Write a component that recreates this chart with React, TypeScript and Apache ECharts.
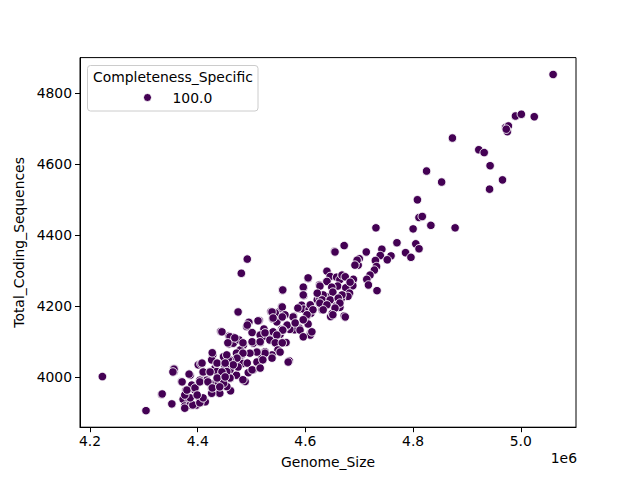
import React, { useEffect, useRef } from "react";
import * as echarts from "echarts";

const xLabel = "Genome_Size";
const yLabel = "Total_Coding_Sequences";
const legendTitle = "Completeness_Specific";
const seriesName = "100.0";
const xTicks = [4200000, 4400000, 4600000, 4800000, 5000000];
const yTicks = [4000, 4200, 4400, 4600, 4800];

// [Genome_Size, Total_Coding_Sequences]
const pointsUpper: number[][] = [
  [5060000, 4853],
  [4990000, 4736], [5001000, 4741], [5025000, 4734],
  [4972000, 4704], [4977000, 4708], [4975000, 4692], [4973000, 4699],
  [4873000, 4674], [4922000, 4641], [4932000, 4633], [4943000, 4596], [4966000, 4556], [4942000, 4530],
  [4825000, 4581], [4853000, 4550], [4808000, 4500], [4811000, 4450], [4817000, 4453], [4833000, 4428], [4878000, 4421],
  [4731000, 4421], [4800000, 4418], [4770000, 4379], [4805000, 4376], [4811000, 4362], [4786000, 4351], [4796000, 4338],
  [4742000, 4361], [4739000, 4343], [4759000, 4342], [4752000, 4331], [4713000, 4353],
  [4700000, 4334], [4696000, 4325], [4698000, 4316], [4730000, 4329], [4732000, 4312], [4728000, 4302],
  [4720000, 4288], [4714000, 4276], [4717000, 4260], [4733000, 4244],
  [4654000, 4355], [4672000, 4371], [4640000, 4299],
  [4646000, 4284], [4658000, 4282], [4670000, 4285], [4664000, 4275],
  [4689000, 4276], [4684000, 4265], [4688000, 4258],
  [4660000, 4257], [4675000, 4252], [4682000, 4237], [4679000, 4228], [4667000, 4223], [4657000, 4201], [4664000, 4197], [4640000, 4227],
  [4672000, 4173], [4647000, 4171], [4650000, 4180],
  [4631000, 4190], [4626000, 4208], [4622000, 4218], [4627000, 4223], [4633000, 4232],
  [4626000, 4260], [4640000, 4270], [4605000, 4278], [4597000, 4253], [4597000, 4230],
];

const pointsMiddle: number[][] = [
  [4589000, 4193], [4593000, 4203], [4597000, 4192], [4607000, 4192], [4610000, 4180], [4602000, 4171], [4605000, 4150], [4609000, 4124], [4609000, 4119],
  [4589000, 4138], [4580000, 4134], [4571000, 4135], [4578000, 4172],
  [4557000, 4246], [4556000, 4199], [4552000, 4185], [4557000, 4171], [4536000, 4185], [4539000, 4165],
  [4565000, 4144], [4556000, 4135], [4553000, 4121], [4544000, 4119], [4531000, 4122], [4525000, 4115], [4547000, 4096], [4564000, 4098], [4550000, 4076], [4538000, 4055], [4570000, 4046],
  [4514000, 4160], [4523000, 4136], [4501000, 4126], [4491000, 4143], [4495000, 4155], [4516000, 4119], [4516000, 4098], [4503000, 4096], [4510000, 4072], [4525000, 4072], [4519000, 4053], [4503000, 4021], [4494000, 4013], [4488000, 3988],
  [4492000, 4333], [4481000, 4293], [4475000, 4185], [4443000, 4129],
  [4458000, 4116], [4466000, 4113], [4458000, 4094], [4466000, 4096], [4477000, 4105],
  [4485000, 4091], [4479000, 4077], [4472000, 4068], [4482000, 4063], [4469000, 4039], [4483000, 4039], [4472000, 4006], [4460000, 3997], [4461000, 3962], [4454000, 3974],
  [4655000, 4353], [4696000, 4330], [4692000, 4316], [4668000, 4288], [4674000, 4283], [4683000, 4268],
  [4605000, 4280], [4627000, 4257], [4649000, 4254], [4596000, 4254], [4596000, 4232], [4558000, 4246], [4622000, 4237], [4651000, 4240], [4668000, 4232],
  [4631000, 4218], [4646000, 4218], [4661000, 4223], [4664000, 4209], [4557000, 4198], [4586000, 4195], [4609000, 4204], [4627000, 4209], [4640000, 4204], [4655000, 4195],
  [4674000, 4170], [4651000, 4176], [4633000, 4190], [4614000, 4190], [4603000, 4176], [4596000, 4162], [4577000, 4170], [4562000, 4176], [4544000, 4181],
  [4547000, 4156], [4566000, 4147], [4581000, 4153], [4558000, 4133], [4590000, 4133], [4612000, 4128], [4596000, 4114], [4540000, 4128],
  [4475000, 4184], [4492000, 4147], [4512000, 4159], [4445000, 4128], [4460000, 4114], [4456000, 4097], [4469000, 4111], [4484000, 4097], [4501000, 4100], [4516000, 4100], [4525000, 4125],
  [4538000, 4184], [4557000, 4170], [4540000, 4167], [4558000, 4133], [4547000, 4119], [4534000, 4105], [4544000, 4097], [4557000, 4097], [4549000, 4077], [4538000, 4063],
  [4525000, 4068], [4510000, 4071], [4497000, 4068], [4484000, 4068], [4473000, 4054], [4460000, 4049], [4447000, 4040], [4432000, 4026], [4427000, 4063],
  [4441000, 4015], [4460000, 4021], [4475000, 4029], [4492000, 4040], [4510000, 4043], [4521000, 4049], [4538000, 4054], [4501000, 4021],
  [4484000, 3993], [4460000, 3998], [4447000, 3993], [4436000, 3987], [4568000, 4043], [4553000, 4071], [4516000, 4026],
];

const pointsLower: number[][] = [
  [4448000, 4058], [4457000, 4049], [4466000, 4035], [4451000, 4030], [4435000, 4039], [4428000, 4063], [4426000, 4049], [4422000, 4016], [4410000, 4013], [4407000, 4035],
  [4435000, 4016], [4445000, 3997], [4454000, 4016], [4448000, 3983], [4432000, 3983], [4423000, 3983], [4417000, 3992], [4426000, 3969], [4438000, 3969], [4441000, 3955], [4426000, 3955],
  [4401000, 4035], [4406000, 4038], [4386000, 4006], [4370000, 3988], [4356000, 4025], [4356000, 4016], [4404000, 3992], [4395000, 3964], [4389000, 3978], [4378000, 3964],
  [4376000, 3945], [4373000, 3938], [4383000, 3941], [4404000, 3936], [4414000, 3931], [4398000, 3922], [4376000, 3919], [4386000, 3922], [4352000, 3925], [4333000, 3952],
  [4304000, 3906], [4223000, 4002],
  [4356000, 4023], [4354000, 4015], [4384000, 4009], [4371000, 3987], [4334000, 3953], [4352000, 3925], [4376000, 3913], [4391000, 3922], [4404000, 3928], [4410000, 3942],
  [4386000, 3942], [4376000, 3950], [4380000, 3964], [4395000, 3970], [4404000, 3987], [4410000, 4015], [4408000, 4040], [4427000, 4069], [4436000, 4040], [4454000, 4063],
  [4451000, 4040], [4423000, 4015], [4445000, 4015], [4436000, 3998], [4419000, 3987], [4427000, 3970], [4441000, 3973], [4451000, 4001], [4399000, 3950],
];

const allPoints = [...pointsUpper, ...pointsMiddle, ...pointsLower];

const FONT = "DejaVu Sans";
const FS = 13.9;

export default function App() {
  const ref = useRef<HTMLDivElement>(null);
  useEffect(() => {
    if (!ref.current) return;
    const chart = echarts.init(ref.current, undefined, { renderer: "svg" });
    const gridLeft = 80, gridTop = 57.6, gridW = 496, gridH = 369.6;
    chart.setOption({
      animation: false,
      backgroundColor: "#ffffff",
      textStyle: { fontFamily: FONT },
      grid: {
        left: gridLeft, top: gridTop, width: gridW, height: gridH,
        show: true, borderColor: "#000", borderWidth: 1, backgroundColor: "transparent",
      },
      xAxis: {
        type: "value",
        min: 4181430,
        max: 5102500,
        name: xLabel,
        nameLocation: "middle",
        nameGap: 28,
        nameTextStyle: { fontFamily: FONT, fontSize: FS, color: "#000" },
        axisLine: { show: true, lineStyle: { color: "#000", width: 1 } },
        axisTick: { show: true, inside: false, length: 5, customValues: xTicks, lineStyle: { color: "#000" } },
        axisLabel: {
          customValues: xTicks, margin: 7, fontFamily: FONT, fontSize: FS, color: "#000",
          formatter: (v: number) => (v / 1e6).toFixed(1),
        },
        splitLine: { show: false },
      },
      yAxis: {
        type: "value",
        min: 3859.4,
        max: 4900.6,
        name: yLabel,
        nameLocation: "middle",
        nameRotate: 90,
        nameGap: 54,
        nameTextStyle: { fontFamily: FONT, fontSize: FS, color: "#000" },
        axisLine: { show: true, lineStyle: { color: "#000", width: 1 } },
        axisTick: { show: true, inside: false, length: 5, customValues: yTicks, lineStyle: { color: "#000" } },
        axisLabel: {
          customValues: yTicks, margin: 8, fontFamily: FONT, fontSize: FS, color: "#000",
          formatter: (v: number) => String(Math.round(v)),
        },
        splitLine: { show: false },
      },
      series: [
        {
          name: seriesName,
          type: "scatter",
          data: allPoints,
          symbol: "circle",
          symbolSize: 8.5,
          itemStyle: { color: "#440154", borderColor: "#ffffff", borderWidth: 0.9, opacity: 1 },
        },
      ],
      graphic: [
        {
          type: "text",
          right: 63,
          top: 451,
          style: { text: "1e6", fontFamily: FONT, fontSize: FS, fill: "#000" },
        },
        {
          type: "rect",
          shape: { x: 87.5, y: 65.5, width: 170.5, height: 45.5, r: 3 },
          style: { fill: "rgba(255,255,255,0.8)", stroke: "#cccccc", lineWidth: 1 },
          z: 100,
        },
        {
          type: "text",
          x: 93,
          y: 76.5,
          style: { text: legendTitle, fontFamily: FONT, fontSize: FS, fill: "#000", verticalAlign: "middle" },
          z: 101,
        },
        {
          type: "circle",
          shape: { cx: 147.5, cy: 97.5, r: 4 },
          style: { fill: "#440154", stroke: "#ffffff", lineWidth: 0.9 },
          z: 101,
        },
        {
          type: "text",
          x: 172.5,
          y: 97.5,
          style: { text: seriesName, fontFamily: FONT, fontSize: FS, fill: "#000", verticalAlign: "middle" },
          z: 101,
        },
      ],
    });
    return () => chart.dispose();
  }, []);
  return (
    <div
      ref={ref}
      style={{ position: "fixed", left: 0, top: 0, width: 640, height: 480, background: "#fff" }}
    />
  );
}
